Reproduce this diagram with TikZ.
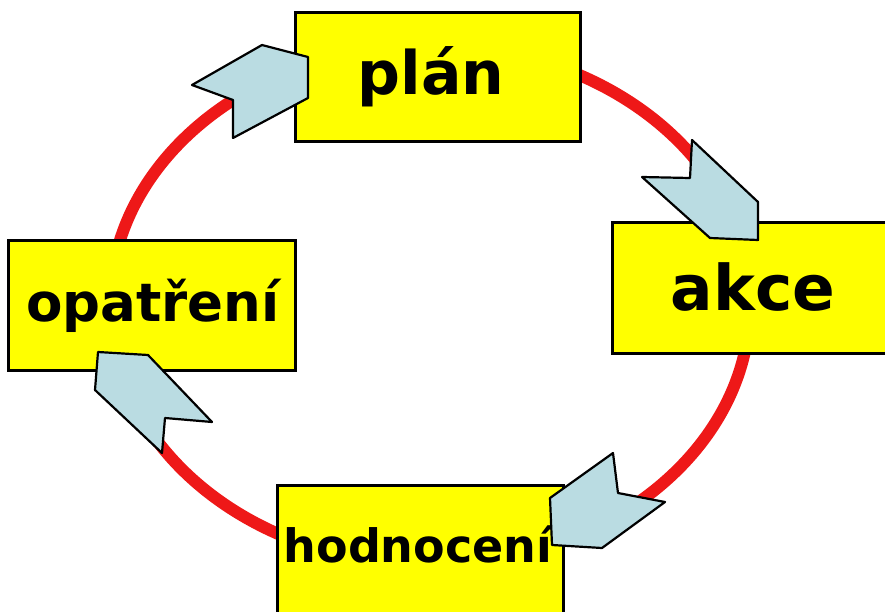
\documentclass[tikz,border=0pt]{standalone}
\usepackage{fontspec}
\setmainfont{DejaVu Sans}
\definecolor{boxyellow}{RGB}{255,255,0}
\definecolor{arrowblue}{RGB}{186,220,226}
\definecolor{ringred}{RGB}{238,24,24}
\begin{document}
\begin{tikzpicture}[x=1pt,y=-1pt,
  box/.style={draw=black,line width=3pt,fill=boxyellow,rectangle,inner sep=0pt},
  label/.style={inner sep=0pt,anchor=base,font=\bfseries},
  chevron/.style={draw=black,line width=2.2pt,fill=arrowblue,line join=round}]
\useasboundingbox (0,0) rectangle (885,612);
\clip (0,0) rectangle (885,612);
\fill[white] (0,0) rectangle (885,612);
% ring
\coordinate (ringc) at (430,305);
\draw[ringred,line width=12pt] (ringc) ellipse [x radius=320pt, y radius=260pt];
% boxes
\node[box,minimum width=285pt,minimum height=129pt] (plan) at (437.5,77.5) {};
\node[box,minimum width=300pt,minimum height=130pt] (akce) at (762,288) {};
\node[box,minimum width=287pt,minimum height=130pt] (opat) at (151.5,305) {};
\node[box,minimum width=286pt,minimum height=170pt] (hodn) at (420,570) {};
% labels
\node[label,font=\bfseries\fontsize{60}{60}\selectfont] (tplan) at (431,95) {plán};
\node[label,font=\bfseries\fontsize{63}{63}\selectfont] (takce) at (753,310) {akce};
\node[label,font=\bfseries\fontsize{53}{53}\selectfont] (topat) at (153,321) {opatření};
\node[label,font=\bfseries\fontsize{46}{46}\selectfont] (thodn) at (418,562) {hodnocení};
% arrows
\draw[chevron] (192,85) -- (262,45) -- (308,57) -- (308,98) -- (233,138) -- (233,100) -- cycle;
\draw[chevron] (692,140) -- (758,202) -- (758,240) -- (710,238) -- (642,177) -- (690,178) -- cycle;
\draw[chevron] (613,453) -- (618,493) -- (665,502) -- (602,548) -- (552,545) -- (550,498) -- cycle;
\draw[chevron] (98,352) -- (148,355) -- (212,422) -- (165,418) -- (162,453) -- (95,390) -- cycle;
\end{tikzpicture}
\end{document}
